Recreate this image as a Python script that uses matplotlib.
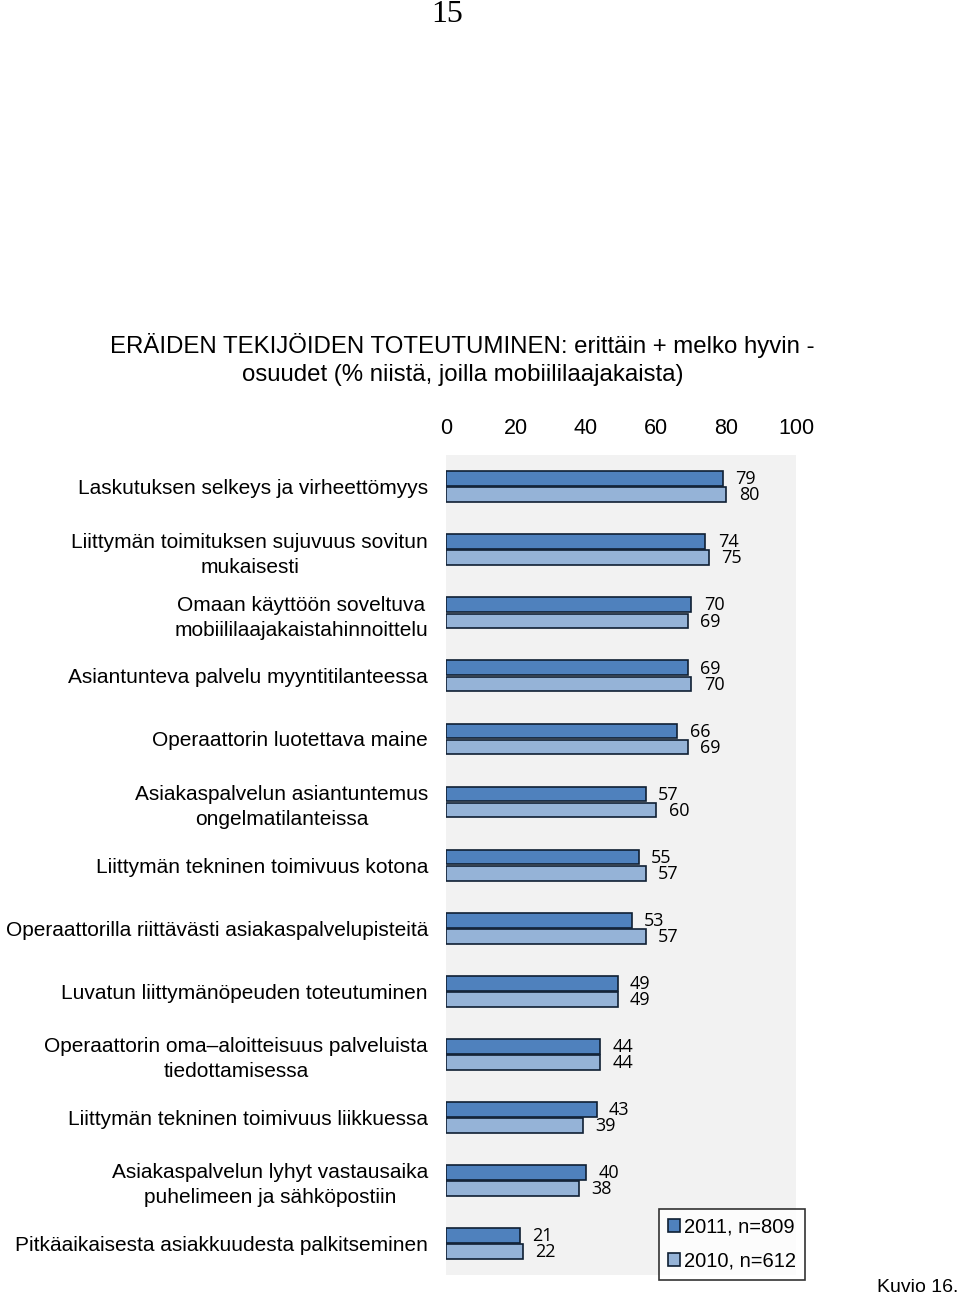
import numpy as np
import matplotlib.pyplot as plt

categories = [
    "Laskutuksen selkeys ja virheettömyys",
    "Liittymän toimituksen sujuvuus sovitun\nmukaisesti",
    "Omaan käyttöön soveltuva\nmobiililaajakaistahinnoittelu",
    "Asiantunteva palvelu myyntitilanteessa",
    "Operaattorin luotettava maine",
    "Asiakaspalvelun asiantuntemus\nongelmatilanteissa",
    "Liittymän tekninen toimivuus kotona",
    "Operaattorilla riittävästi asiakaspalvelupisteitä",
    "Luvatun liittymänöpeuden toteutuminen",
    "Operaattorin oma\u2013aloitteisuus palveluista\ntiedottamisessa",
    "Liittymän tekninen toimivuus liikkuessa",
    "Asiakaspalvelun lyhyt vastausaika\npuhelimeen ja sähköpostiin",
    "Pitkäaikaisesta asiakkuudesta palkitseminen",
]
values_2011 = [79, 74, 70, 69, 66, 57, 55, 53, 49, 44, 43, 40, 21]
values_2010 = [80, 75, 69, 70, 69, 60, 57, 57, 49, 44, 39, 38, 22]
series_labels = ["2011, n=809", "2010, n=612"]
xticks = [0, 20, 40, 60, 80, 100]

dark = "#4f81bd"
light = "#95b3d7"
edge = "#0f1f33"

fig = plt.figure(figsize=(9.6, 12.97), dpi=100)
ax = fig.add_axes([0.4646, 0.017, 0.3646, 0.632])
ax.set_facecolor("#f2f2f2")

y = np.arange(len(categories))
h = 0.235
ax.barh(y - h / 2 - 0.01, values_2011, height=h, color=dark, edgecolor=edge,
        linewidth=1.2, label=series_labels[0])
ax.barh(y + h / 2 + 0.01, values_2010, height=h, color=light, edgecolor=edge,
        linewidth=1.2, label=series_labels[1])

for i in range(len(categories)):
    ax.text(values_2011[i] + 3.6, y[i] - h / 2, str(values_2011[i]),
            va="center", ha="left", fontsize=13, family="Open Sans")
    ax.text(values_2010[i] + 3.6, y[i] + h / 2 + 0.02, str(values_2010[i]),
            va="center", ha="left", fontsize=13, family="Open Sans")

ax.set_xlim(0, 100)
ax.set_ylim(len(categories) - 0.5, -0.5)
ax.set_xticks(xticks)
ax.xaxis.tick_top()
ax.tick_params(axis="x", length=0, pad=12, labelsize=15.5)
ax.set_yticks(y)
ax.set_yticklabels(categories, fontsize=15, linespacing=1.38,
                   multialignment="center")
ax.tick_params(axis="y", length=0, pad=13)
for lab in ax.get_xticklabels() + ax.get_yticklabels():
    lab.set_family("Liberation Sans")
for s in ax.spines.values():
    s.set_visible(False)

leg = ax.legend(loc="lower right", bbox_to_anchor=(1.026, -0.006),
                prop={"family": "Liberation Sans", "size": 14.5},
                frameon=True, fancybox=False, edgecolor="black",
                handlelength=0.6, handleheight=0.6, handletextpad=0.2,
                labelspacing=0.75, borderpad=0.45, borderaxespad=0)
leg.get_frame().set_linewidth(1.2)

fig.text(0.466, 0.989, "15", ha="center", va="center", fontsize=23,
         family="Liberation Serif")
fig.text(0.482, 0.723,
         "ERÄIDEN TEKIJÖIDEN TOTEUTUMINEN: erittäin + melko hyvin -\n"
         "osuudet (% niistä, joilla mobiililaajakaista)",
         ha="center", va="center", fontsize=17.3, family="Liberation Sans",
         linespacing=1.35)
fig.text(0.998, 0.001, "Kuvio 16.", ha="right", va="bottom", fontsize=14,
         family="Liberation Sans")

fig.savefig("out.png", dpi=100)
